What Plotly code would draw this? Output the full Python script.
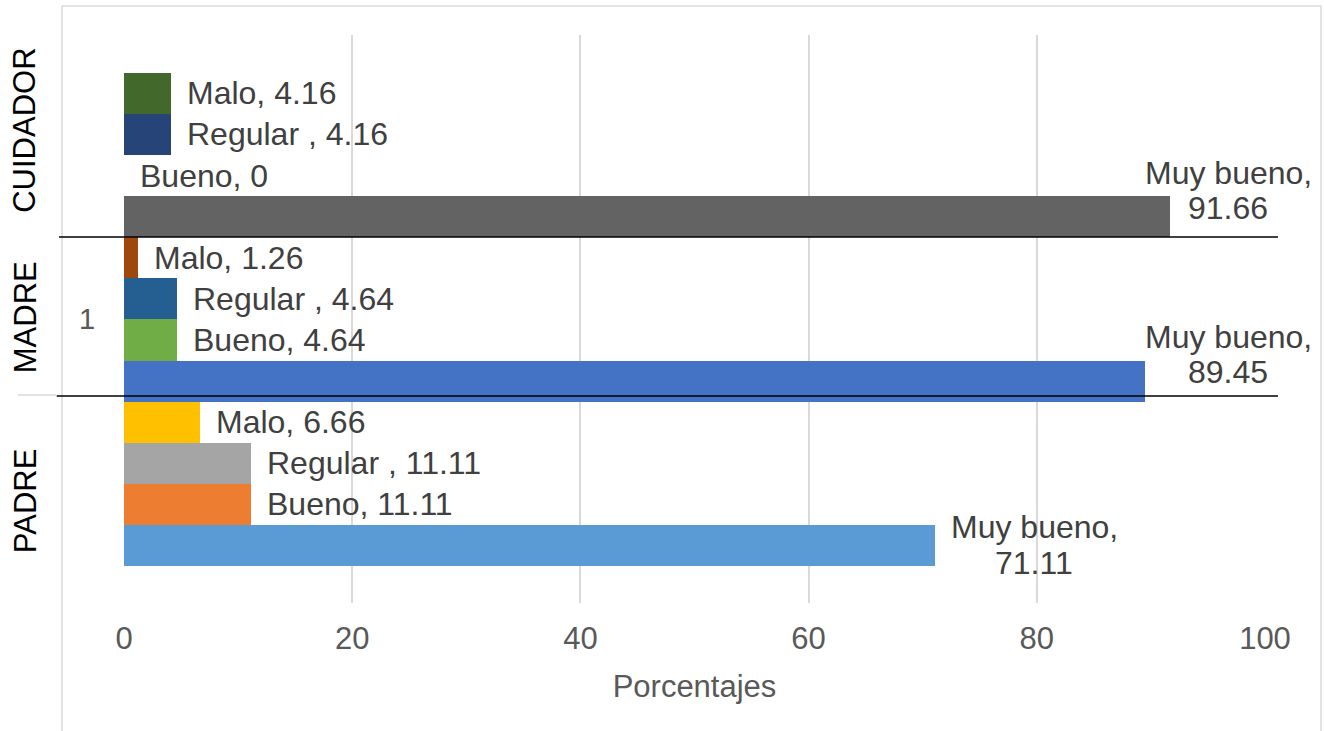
import plotly.graph_objects as go

# Rating categories, in stacking order from the bottom of each group
levels = ["Muy bueno", "Bueno", "Regular ", "Malo"]
groups = ["PADRE", "MADRE", "CUIDADOR"]

# Percentages per rating for each family member
padre = [71.11, 11.11, 11.11, 6.66]
madre = [89.45, 4.64, 4.64, 1.26]
cuidador = [91.66, 0, 4.16, 4.16]

# Bar colours (Office palette), one per bar, same order as the values
padre_colors = ["#5B9BD5", "#ED7D31", "#A5A5A5", "#FFC000"]
madre_colors = ["#4472C4", "#70AD47", "#255E91", "#9E480E"]
cuidador_colors = ["#636363", "#997300", "#264478", "#43682B"]

x_ticks = [0, 20, 40, 60, 80, 100]
x_title = "Porcentajes"
category_tick = "1"

FONT = "Liberation Sans, Arial, sans-serif"
LABEL_COLOR = "#404040"
AXIS_COLOR = "#595959"
GRID_COLOR = "#D9D9D9"
LABEL_SIZE = 32

series = [padre, madre, cuidador]
series_colors = [padre_colors, madre_colors, cuidador_colors]

values, colors, positions, labels = [], [], [], []
pos = 0
for vals, cols in zip(series, series_colors):
    for lvl, v, c in zip(levels, vals, cols):
        values.append(v)
        colors.append(c)
        positions.append(pos)
        labels.append((lvl, v))
        pos += 1

fig = go.Figure()
fig.add_trace(go.Bar(
    x=values,
    y=positions,
    orientation="h",
    width=1,
    marker=dict(color=colors, line=dict(width=0)),
    hoverinfo="x",
    showlegend=False,
))

label_font = dict(family=FONT, size=LABEL_SIZE, color=LABEL_COLOR)
annotations = []
for (lvl, v), p in zip(labels, positions):
    txt_val = f"{v:g}"
    if lvl == "Muy bueno":
        # two-line label: name on top, value centred beneath
        lines = [f"{lvl},", txt_val]
        if v > 80:
            # would run past the chart edge: pin to the right and lift it
            for line, dy in zip(lines, (44, 9)):
                annotations.append(dict(
                    x=0.9676, xref="paper", y=p, yref="y", text=line,
                    showarrow=False, xanchor="center", yanchor="middle",
                    yshift=dy, font=label_font,
                ))
        else:
            for line, dy in zip(lines, (18, -18)):
                annotations.append(dict(
                    x=v, xref="x", y=p, yref="y", text=line,
                    showarrow=False, xanchor="center", yanchor="middle",
                    xshift=99, yshift=dy, font=label_font,
                ))
    else:
        annotations.append(dict(
            x=v, xref="x", y=p, yref="y",
            text=f"{lvl}, {txt_val}", showarrow=False,
            xanchor="left", yanchor="middle", xshift=14,
            font=label_font,
        ))

# Group names, rotated, on the left
group_y = {"PADRE": 0.181, "MADRE": 0.503, "CUIDADOR": 0.833}
for g in groups:
    annotations.append(dict(
        x=-0.0868, xref="paper", y=group_y[g], yref="paper",
        text=g, textangle=-90, showarrow=False,
        xanchor="center", yanchor="middle",
        font=dict(family=FONT, size=31, color="#000000"),
    ))

annotations.append(dict(
    x=-0.0324, xref="paper", y=0.4995, yref="paper",
    text=category_tick, showarrow=False, xanchor="center", yanchor="middle",
    font=dict(family=FONT, size=29, color=AXIS_COLOR),
))

shapes = [
    # chart area border
    dict(type="rect", xref="paper", yref="paper",
         x0=-0.0543, x1=1.0491, y0=-0.26, y1=1.0511,
         line=dict(color=GRID_COLOR, width=1.5), layer="below"),
    # group separators
    dict(type="line", xref="paper", yref="paper",
         x0=-0.057, x1=1.0114, y0=0.6444, y1=0.6444,
         line=dict(color="#000000", width=1.5)),
    dict(type="line", xref="paper", yref="paper",
         x0=-0.059, x1=1.0114, y0=0.3644, y1=0.3644,
         line=dict(color="#000000", width=1.5)),
    dict(type="line", xref="paper", yref="paper",
         x0=-0.0929, x1=-0.059, y0=0.3662, y1=0.3662,
         line=dict(color=GRID_COLOR, width=1.5)),
]

fig.update_layout(
    width=1324,
    height=731,
    margin=dict(l=124, r=59, t=35, b=128),
    paper_bgcolor="white",
    plot_bgcolor="white",
    bargap=0,
    annotations=annotations,
    shapes=shapes,
    font=dict(family=FONT),
    xaxis=dict(
        range=[0, 100],
        tickvals=x_ticks,
        ticktext=[str(t) for t in x_ticks],
        showgrid=True,
        gridcolor=GRID_COLOR,
        gridwidth=1.5,
        zeroline=False,
        showline=False,
        ticks="",
        ticklabelstandoff=14,
        tickfont=dict(family=FONT, size=31, color=AXIS_COLOR),
        title=dict(text=x_title, standoff=20,
                   font=dict(family=FONT, size=31, color=AXIS_COLOR)),
    ),
    yaxis=dict(
        range=[-1.4, 12.42],
        showgrid=False,
        zeroline=False,
        showticklabels=False,
        showline=False,
        ticks="",
    ),
)

fig.write_html("out.html")
